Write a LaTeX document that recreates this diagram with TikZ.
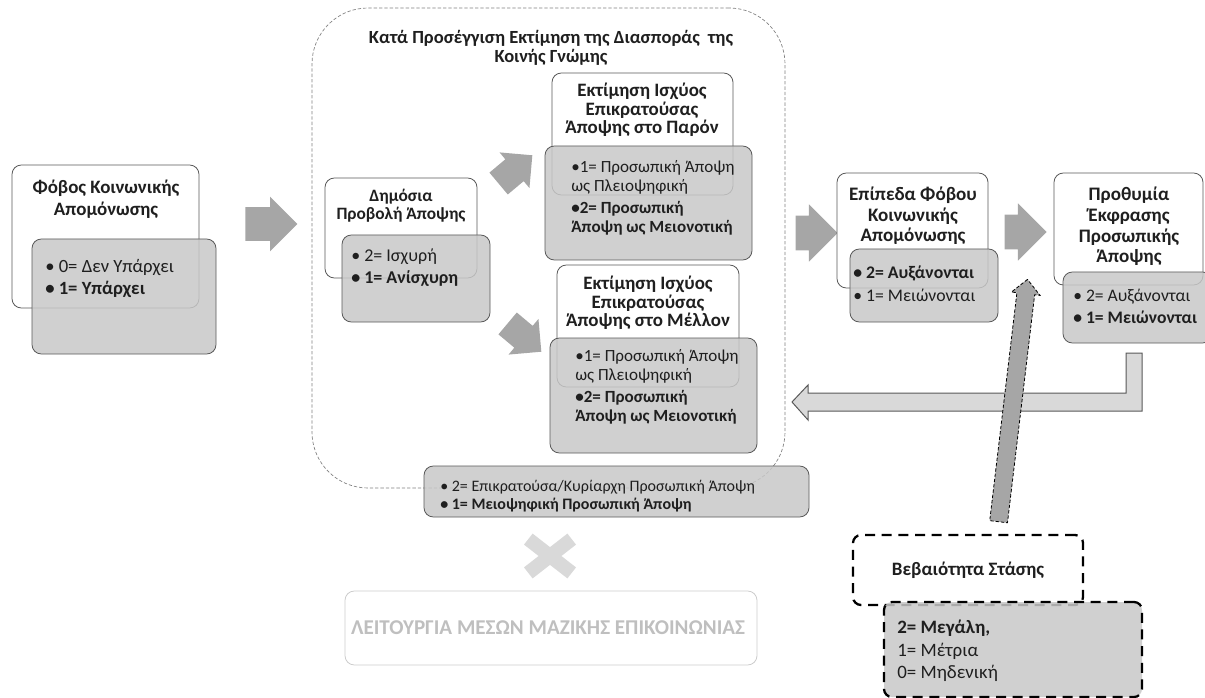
\documentclass[tikz,border=0pt]{standalone}
\usepackage{fontspec}
\setmainfont{Carlito}
\definecolor{BoxLine}{HTML}{595959}
\definecolor{BoxGrey}{HTML}{C8C8C8}
\definecolor{ArrowGrey}{HTML}{A6A6A6}
\definecolor{BackGrey}{HTML}{D9D9D9}
\definecolor{FaintGrey}{HTML}{BFBFBF}
\definecolor{FrameGrey}{HTML}{7F7F7F}
\definecolor{InkGrey}{HTML}{1F1F1F}
\usetikzlibrary{positioning,shapes.arrows,fit}

\tikzset{
  whitebox/.style={draw=BoxLine, fill=white, rounded corners=7pt, line width=0.6pt, inner sep=0pt},
  greybox/.style={draw=BoxLine, fill=BoxGrey, fill opacity=0.85, rounded corners=7pt, line width=0.6pt, inner sep=0pt},
  certbox/.style={draw=black, line width=1.7pt, dash pattern=on 7.5pt off 5pt, rounded corners=6pt, inner sep=0pt},
  headtext/.style n args={2}{font=\bfseries\fontsize{#1}{#2}\selectfont, align=center, text=InkGrey, inner sep=0pt},
  itemtext/.style n args={2}{font=\fontsize{#1}{#2}\selectfont, align=left, text=InkGrey, inner sep=0pt, anchor=west},
  blockarrow/.style n args={3}{single arrow, fill=ArrowGrey, inner xsep=0pt, inner ysep=#2,
    single arrow head extend=#3, minimum height=#1, minimum width=0pt}
}

\begin{document}
\begin{tikzpicture}[x=0.75pt, y=-0.75pt]
  \useasboundingbox (0,0) rectangle (1205,698);

  % frame of the estimate
  \node[draw=FrameGrey, line width=0.5pt, dash pattern=on 2.5pt off 1.5pt, rounded corners=42pt,
        inner sep=0pt, fit={(312,8) (785,488)}] (frame) {};
  \node[headtext={13.9}{14.25}] (frametitle) at (551,47.5)
    {Κατά Προσέγγιση Εκτίμηση της Διασποράς \ της\\Κοινής Γνώμης};

  % fear of isolation
  \node[whitebox, fit={(12,165) (199,308)}] (fear) {};
  \node[greybox, fit={(32,239) (216,354)}] (fearval) {};
  \node[headtext={14.2}{16.5}] (feartitle) at (106,199)
    {Φόβος Κοινωνικής\\Απομόνωσης};
  \node[itemtext={14}{16.5}] (fearitems) at (45,278)
    {• 0= Δεν Υπάρχει\\\textbf{• 1= Υπάρχει}};

  \node[blockarrow={39pt}{12.4pt}{7.9pt}] (arrA) at (263,224) {};

  % public expression
  \node[whitebox, fit={(325,178) (477,278)}] (pub) {};
  \node[greybox, fit={(342,235) (490,322)}] (pubval) {};
  \node[headtext={13}{13.5}] (pubtitle) at (401,206) {Δημόσια\\Προβολή Άποψης};
  \node[itemtext={13.5}{16.5}] (pubitems) at (351,268)
    {• 2= Ισχυρή\\\textbf{• 1= Ανίσχυρη}};

  \node[blockarrow={33pt}{10.5pt}{6.75pt}, rotate=40] (arrUp) at (510,174) {};
  \node[blockarrow={33pt}{10.5pt}{6.75pt}, rotate=-40] (arrDown) at (519,333) {};

  % present
  \node[whitebox, fit={(552,73) (733,195)}] (now) {};
  \node[greybox, fit={(545,146) (752,260)}] (nowval) {};
  \node[headtext={14.2}{13.75}] (nowtitle) at (642,110)
    {Εκτίμηση Ισχύος\\Επικρατούσας\\Άποψης στο Παρόν};
  \node[itemtext={12.8}{14.25}] (nowitems) at (571,198)
    {•1= Προσωπική Άποψη\\ως Πλειοψηφική\\[2.25pt]\textbf{•2= Προσωπική}\\\textbf{Άποψη ως Μειονοτική}};

  % future
  \node[whitebox, fit={(557,265) (739,387)}] (fut) {};
  \node[greybox, fit={(550,338) (757,453)}] (futval) {};
  \node[headtext={14.2}{13.75}] (futtitle) at (648,303)
    {Εκτίμηση Ισχύος\\Επικρατούσας\\Άποψης στο Μέλλον};
  \node[itemtext={12.8}{14.25}] (futitems) at (575,387)
    {•1= Προσωπική Άποψη\\ως Πλειοψηφική\\[2.25pt]\textbf{•2= Προσωπική}\\\textbf{Άποψη ως Μειονοτική}};

  % personal opinion
  \node[greybox, fit={(424,466) (809,517)}] (own) {};
  \node[itemtext={12}{13.5}] (ownitems) at (440,496)
    {• 2= Επικρατούσα/Κυρίαρχη Προσωπική Άποψη\\\textbf{• 1= Μειοψηφική Προσωπική Άποψη}};

  % mass media
  \draw[BackGrey, line width=10.5pt] (528.3,539.1) -- (571.7,572.9);
  \draw[BackGrey, line width=10.5pt] (528.3,572.9) -- (571.7,539.1);
  \node[draw=FaintGrey!80, line width=0.6pt, rounded corners=7pt, inner sep=0pt,
        fit={(345,591) (757,665)}] (media) {};
  \node[headtext={15.8}{17}, text=FaintGrey] (mediatext) at (548,628)
    {ΛΕΙΤΟΥΡΓΙΑ ΜΕΣΩΝ ΜΑΖΙΚΗΣ ΕΠΙΚΟΙΝΩΝΙΑΣ};

  \node[blockarrow={31.5pt}{12.75pt}{8.6pt}] (arrB) at (808,233) {};

  % levels of fear
  \node[whitebox, fit={(837,173) (988,288)}] (lev) {};
  \node[greybox, fit={(850,249) (998,322)}] (levval) {};
  \node[headtext={14.3}{15.4}] (levtitle) at (913,216)
    {Επίπεδα Φόβου\\Κοινωνικής\\Απομόνωσης};
  \node[itemtext={13.3}{17.25}] (levitems) at (853,283.5)
    {\textbf{• 2= Αυξάνονται}\\• 1= Μειώνονται};

  \node[blockarrow={31.5pt}{12.75pt}{8.6pt}] (arrC) at (1017,232) {};

  % willingness
  \node[whitebox, fit={(1054,173) (1203,285)}] (will) {};
  \node[greybox, fit={(1063,272) (1212,343)}] (willval) {};
  \node[headtext={14.3}{15.5}] (willtitle) at (1129,226.5)
    {Προθυμία\\Έκφρασης\\Προσωπικής\\Άποψης};
  \node[itemtext={13.2}{16.5}] (willitems) at (1073,306)
    {• 2= Αυξάνονται\\\textbf{• 1= Μειώνονται}};

  % feedback
  \draw[fill=BackGrey, draw=BoxLine, line width=0.75pt]
    (1126,353) -- (1142,353) -- (1142,411) -- (808,411) -- (808,420) -- (792,402)
    -- (808,385) -- (808,393) -- (1126,393) -- cycle;

  % certainty
  \node[blockarrow={183pt}{6.4pt}{4.1pt}, draw=black, line width=0.6pt,
        dash pattern=on 2.5pt off 1.5pt, rotate=83.2] (arrCert) at (1012.5,405) {};
  \node[certbox, fill=white, fit={(853,535) (1083,605)}] (cert) {};
  \node[certbox, fill=BoxGrey, fill opacity=0.85, fit={(884,602) (1142,697)}] (certval) {};
  \node[headtext={14.2}{15}] (certtitle) at (968,570) {Βεβαιότητα Στάσης};
  \node[itemtext={14.2}{16.9}] (certitems) at (897,651)
    {\textbf{2= Μεγάλη,}\\1= Μέτρια\\0= Μηδενική};
\end{tikzpicture}
\end{document}
